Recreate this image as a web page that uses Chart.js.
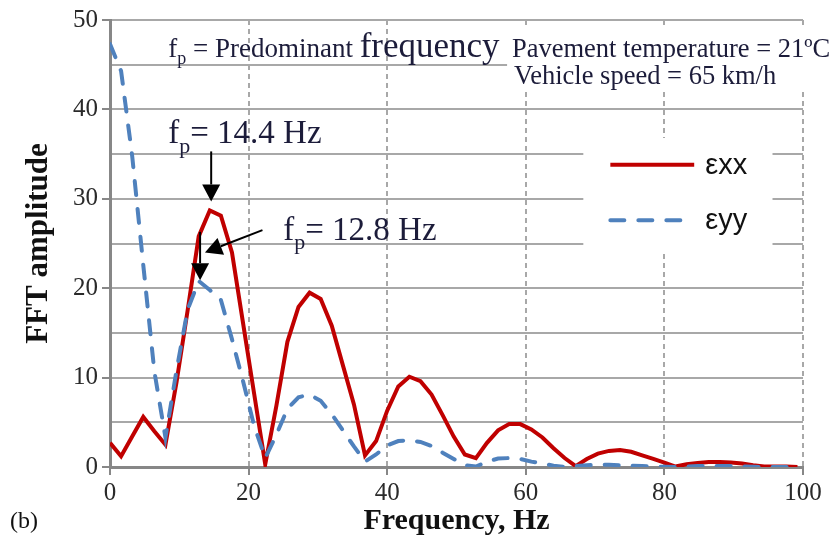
<!DOCTYPE html>
<html>
<head>
<meta charset="utf-8">
<script src="https://cdn.jsdelivr.net/npm/chart.js@4.4.0/dist/chart.umd.min.js"></script>
<style>
  html, body { margin: 0; padding: 0; background: #fff; }
</style>
</head>
<body>
<canvas id="fftChart" width="835" height="544"></canvas>
<script>
// FFT spectrum, 1.6 Hz resolution
const freqs = [0, 1.6, 3.2, 4.8, 6.4, 8.0, 9.6, 11.2, 12.8, 14.4, 16.0, 17.6, 19.2, 20.8, 22.4, 24.0,
  25.6, 27.2, 28.8, 30.4, 32.0, 33.6, 35.2, 36.8, 38.4, 40.0, 41.6, 43.2, 44.8, 46.4, 48.0, 49.6,
  51.2, 52.8, 54.4, 56.0, 57.6, 59.2, 60.8, 62.4, 64.0, 65.6, 67.2, 68.8, 70.4, 72.0, 73.6, 75.2,
  76.8, 78.4, 80.0, 81.6, 83.2, 84.8, 86.4, 88.0, 89.6, 91.2, 92.8, 94.4, 96.0, 97.6, 99.2];

const exx = [2.7, 1.2, 3.4, 5.6, 4.0, 2.5, 9.5, 17.5, 25.8, 28.7, 28.1, 24.0, 16.1, 8.2, 0.3, 6.8,
  14.0, 17.9, 19.5, 18.8, 15.8, 11.4, 7.0, 1.3, 2.9, 6.3, 9.0, 10.1, 9.6, 8.1, 5.8, 3.4,
  1.4, 1.0, 2.7, 4.1, 4.8, 4.8, 4.2, 3.3, 2.1, 1.0, 0.1, 0.9, 1.5, 1.8, 1.9, 1.7,
  1.3, 0.9, 0.5, 0.05, 0.3, 0.45, 0.55, 0.55, 0.5, 0.4, 0.2, 0.05, 0.05, 0.05, 0.0];

const eyy = [47.3, 44.3, 34.8, 22.6, 10.7, 3.3, 10.8, 17.6, 20.8, 19.8, 18.7, 14.3, 9.6, 4.6, 1.0, 3.6,
  6.5, 7.8, 8.1, 7.4, 5.9, 4.1, 2.3, 0.6, 1.4, 2.4, 2.9, 3.0, 2.8, 2.35, 1.6, 0.9,
  0.2, 0.05, 0.6, 0.95, 1.0, 0.9, 0.6, 0.4, 0.15, 0.0, 0.1, 0.2, 0.25, 0.25, 0.2, 0.15,
  0.1, 0.05, 0.02, 0.0, 0.05, 0.1, 0.1, 0.1, 0.1, 0.05, 0.02, 0.0, 0.0, 0.0, 0.0];

const seriesNames = ["εxx", "εyy"];
const xTickStep = 20;
const yTickStep = 5;
const yLabelStep = 10;

const SERIF = "'Liberation Serif', 'Times New Roman', serif";
const SANS = "'Liberation Sans', Arial, sans-serif";
const TEXT = "#1c1c3a";
const AXIS = "#878787";
const GRID = "#a8a8a8";

// write "f" with a subscript "p", then the rest; returns x after the text
function drawFp(ctx, x, y, size, parts) {
  ctx.font = size + "px " + SERIF;
  ctx.fillText("f", x, y);
  x += ctx.measureText("f").width;
  const sub = Math.round(size * 0.68);
  ctx.font = sub + "px " + SERIF;
  ctx.fillText("p", x, y + size * 0.28);
  x += ctx.measureText("p").width;
  parts.forEach(p => {
    ctx.font = p.size + "px " + SERIF;
    ctx.fillText(p.text, x, y);
    x += ctx.measureText(p.text).width;
  });
  return x;
}

function arrow(ctx, x1, y1, x2, y2) {
  const ang = Math.atan2(y2 - y1, x2 - x1);
  const len = 17, half = 9;
  const bx = x2 - len * Math.cos(ang), by = y2 - len * Math.sin(ang);
  ctx.beginPath();
  ctx.moveTo(x1, y1);
  ctx.lineTo(bx, by);
  ctx.stroke();
  ctx.beginPath();
  ctx.moveTo(x2, y2);
  ctx.lineTo(bx + half * Math.sin(ang), by - half * Math.cos(ang));
  ctx.lineTo(bx - half * Math.sin(ang), by + half * Math.cos(ang));
  ctx.closePath();
  ctx.fill();
}

const notes = {
  id: "notes",
  beforeDatasetsDraw(chart) {
    const { ctx, scales: { x, y } } = chart;
    ctx.save();
    ctx.fillStyle = "#fff";
    // box behind the test conditions
    ctx.fillRect(x.getPixelForValue(57.3), y.getPixelForValue(49.2),
      x.getPixelForValue(104.5) - x.getPixelForValue(57.3), y.getPixelForValue(42.1) - y.getPixelForValue(49.2));
    // legend box
    ctx.fillRect(x.getPixelForValue(68.3), y.getPixelForValue(36.8),
      x.getPixelForValue(95.6) - x.getPixelForValue(68.3), y.getPixelForValue(24.2) - y.getPixelForValue(36.8));
    ctx.restore();
  },
  afterDatasetsDraw(chart) {
    const { ctx, scales: { x, y } } = chart;
    ctx.save();
    ctx.fillStyle = TEXT;
    ctx.textBaseline = "alphabetic";
    ctx.textAlign = "left";

    drawFp(ctx, x.getPixelForValue(8.4), y.getPixelForValue(45.9), 27,
      [{ text: " = Predominant ", size: 27 }, { text: "frequency", size: 35 }]);

    ctx.font = "26.5px " + SERIF;
    ctx.fillText("Pavement temperature = 21ºC", x.getPixelForValue(58.0), y.getPixelForValue(45.9));
    ctx.fillText("Vehicle speed = 65 km/h", x.getPixelForValue(58.3), y.getPixelForValue(42.8));

    drawFp(ctx, x.getPixelForValue(8.4), y.getPixelForValue(36.2), 33, [{ text: "= 14.4 Hz", size: 33 }]);
    drawFp(ctx, x.getPixelForValue(25.0), y.getPixelForValue(25.4), 33, [{ text: "= 12.8 Hz", size: 33 }]);

    ctx.fillStyle = "#000";
    ctx.strokeStyle = "#000";
    ctx.lineWidth = 2;
    arrow(ctx, x.getPixelForValue(14.6), y.getPixelForValue(35.3), x.getPixelForValue(14.6), y.getPixelForValue(29.7));
    arrow(ctx, x.getPixelForValue(13.0), y.getPixelForValue(26.3), x.getPixelForValue(13.0), y.getPixelForValue(20.9));
    arrow(ctx, x.getPixelForValue(22.0), y.getPixelForValue(26.5), x.getPixelForValue(13.7), y.getPixelForValue(24.0));

    // legend
    const rows = [33.8, 27.6];
    chart.data.datasets.forEach((ds, i) => {
      const yy = y.getPixelForValue(rows[i]);
      ctx.save();
      ctx.strokeStyle = ds.borderColor;
      ctx.lineWidth = ds.borderWidth;
      ctx.lineCap = ds.borderCapStyle || "butt";
      ctx.setLineDash(ds.borderDash || []);
      ctx.beginPath();
      ctx.moveTo(x.getPixelForValue(72.2), yy);
      ctx.lineTo(x.getPixelForValue(84.3), yy);
      ctx.stroke();
      ctx.restore();
      ctx.fillStyle = "#111";
      ctx.font = "29px " + SANS;
      ctx.textBaseline = "middle";
      ctx.fillText(ds.label, x.getPixelForValue(85.9), yy + 1);
    });

    ctx.fillStyle = "#111";
    ctx.textBaseline = "alphabetic";
    ctx.font = "24px " + SERIF;
    ctx.fillText("(b)", 10, 528);
    ctx.restore();
  }
};

new Chart(document.getElementById("fftChart"), {
  type: "line",
  data: {
    datasets: [
      {
        label: seriesNames[0],
        data: freqs.map((f, i) => ({ x: f, y: exx[i] })),
        borderColor: "#C00000",
        borderWidth: 4,
        pointRadius: 0,
        tension: 0,
        fill: false,
        order: 1
      },
      {
        label: seriesNames[1],
        data: freqs.map((f, i) => ({ x: f, y: eyy[i] })),
        borderColor: "#4F81BD",
        borderWidth: 4,
        borderDash: [14, 14],
        borderCapStyle: "round",
        pointRadius: 0,
        tension: 0,
        fill: false,
        order: 0
      }
    ]
  },
  options: {
    responsive: false,
    animation: false,
    layout: { padding: { left: 0, right: 32, top: 20, bottom: 0 } },
    plugins: {
      legend: { display: false },
      tooltip: { enabled: false }
    },
    scales: {
      x: {
        type: "linear",
        min: 0,
        max: 100,
        afterFit: s => { s.height = 77; },
        ticks: {
          stepSize: xTickStep,
          color: "#2a2a2a",
          font: { family: SERIF, size: 25 },
          padding: 3,
          maxRotation: 0
        },
        grid: { color: GRID, lineWidth: 2, tickLength: 8, tickColor: AXIS, tickWidth: 2 },
        border: { color: AXIS, width: 3, dash: [5, 4] },
        title: {
          display: true,
          text: "Frequency, Hz",
          color: "#111",
          font: { family: SERIF, size: 30, weight: "bold" },
          padding: { top: 0, bottom: 5 }
        }
      },
      y: {
        min: 0,
        max: 50,
        afterFit: s => { s.width = 110; },
        ticks: {
          stepSize: yTickStep,
          color: "#2a2a2a",
          font: { family: SERIF, size: 25 },
          padding: 4,
          callback: v => (v % yLabelStep === 0 ? v : "")
        },
        grid: {
          color: GRID,
          lineWidth: 2,
          tickLength: 8,
          tickWidth: 2,
          tickColor: c => (c.tick && c.tick.value % yLabelStep === 0 ? AXIS : "rgba(0,0,0,0)")
        },
        border: { color: AXIS, width: 3 },
        title: {
          display: true,
          text: "FFT amplitude",
          color: "#111",
          font: { family: SERIF, size: 31, weight: "bold" },
          padding: { top: 20, bottom: 0 }
        }
      }
    }
  },
  plugins: [notes]
});
</script>
</body>
</html>
